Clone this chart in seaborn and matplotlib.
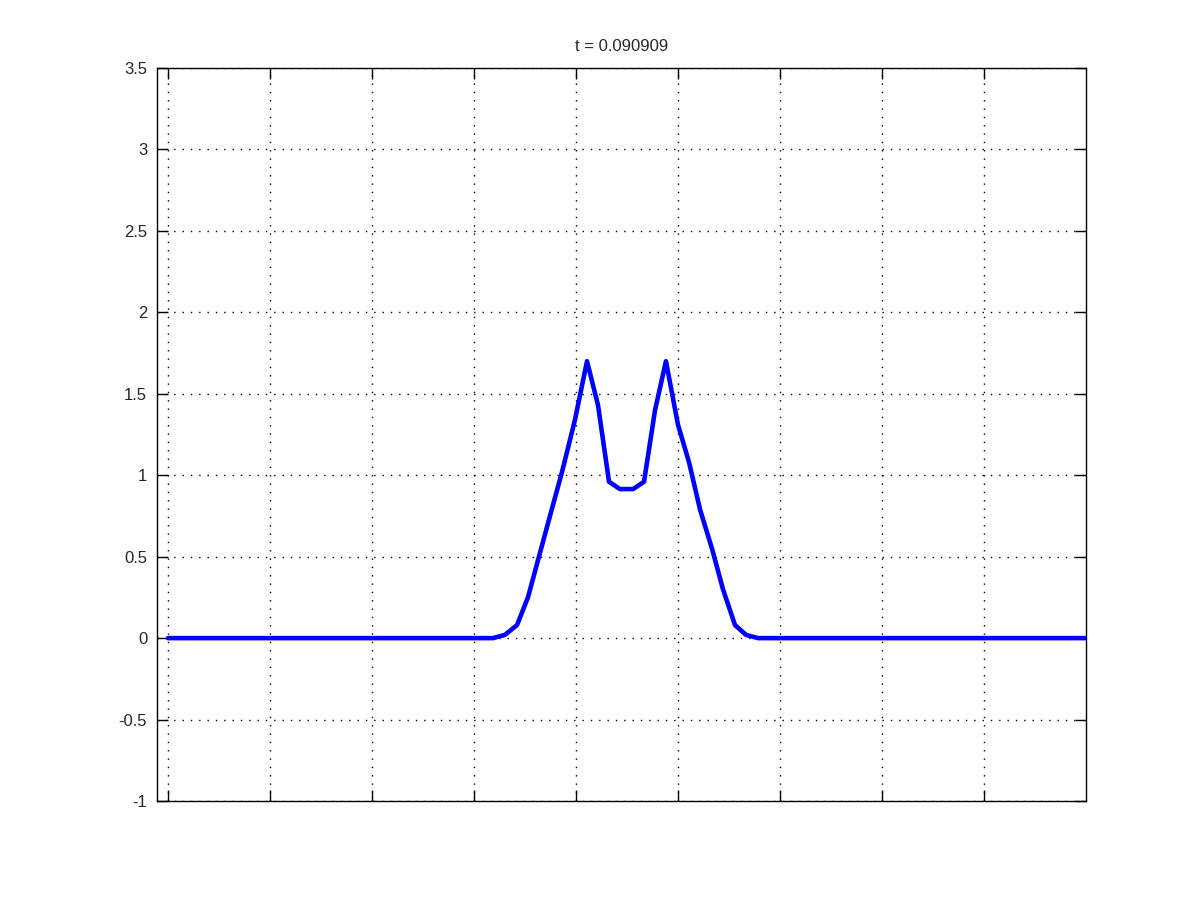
import matplotlib
matplotlib.use("Agg")
import matplotlib.pyplot as plt
import seaborn as sns
import numpy as np

# values
x_vals = [0.0, 3.186, 3.304, 3.422, 3.529, 3.637, 3.745, 3.863, 3.990, 4.108,
          4.216, 4.324, 4.431, 4.559, 4.667, 4.775, 4.882, 5.0, 5.108, 5.216,
          5.333, 5.441, 5.559, 5.667, 5.784, 9.0]
y_vals = [0.0, 0.0, 0.02, 0.08, 0.25, 0.5, 0.75, 1.02, 1.34, 1.70,
          1.43, 0.96, 0.915, 0.915, 0.96, 1.40, 1.70, 1.31, 1.08, 0.79,
          0.55, 0.30, 0.08, 0.02, 0.0, 0.0]
x_ticks = [0, 1, 2, 3, 4, 5, 6, 7, 8]
y_ticks = [-1, -0.5, 0, 0.5, 1, 1.5, 2, 2.5, 3, 3.5]
y_labels = ["-1", "-0.5", "0", "0.5", "1", "1.5", "2", "2.5", "3", "3.5"]
title = "t = 0.090909"

sns.set_style("white")
plt.rcParams['font.family'] = ['Liberation Sans', 'DejaVu Sans']

fig = plt.figure(figsize=(12, 9), dpi=100)
ax = fig.add_axes([0.1308, 0.11, 0.7742, 0.8144])

sns.lineplot(x=x_vals, y=y_vals, color='#0000ff', linewidth=3.3, sort=False, ax=ax)

ax.set_xlim(-0.108, 9.0)
ax.set_ylim(-1, 3.5)
ax.set_xticks(x_ticks)
ax.set_xticklabels([])
ax.set_yticks(y_ticks)
ax.set_yticklabels(y_labels)
ax.tick_params(direction='in', length=8, width=1, color='black',
               top=True, right=True, bottom=True, left=True,
               labelsize=12, pad=7)
ax.grid(True, color='black', linestyle=(0, (1, 5)), linewidth=1)
for s in ax.spines.values():
    s.set_color('black')
    s.set_linewidth(1)
    s.set_visible(True)
ax.set_title(title, fontsize=12, pad=12)

fig.savefig("out.png", dpi=100)
